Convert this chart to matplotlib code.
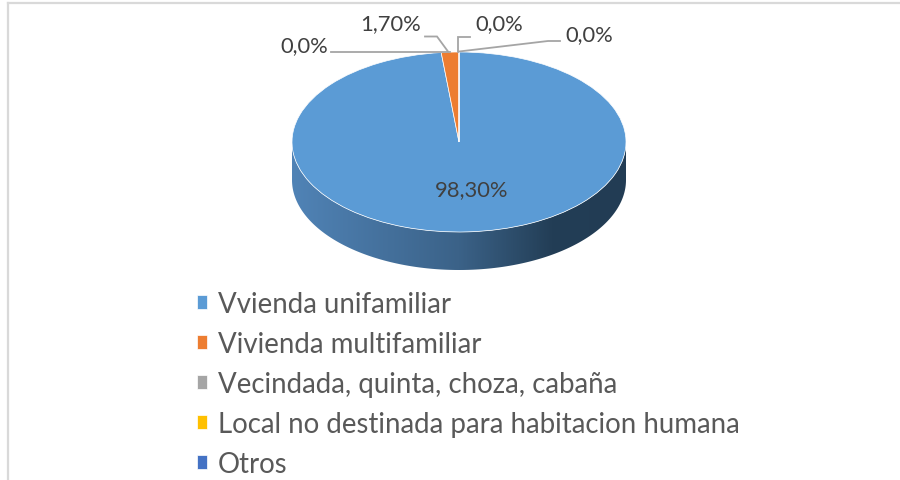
import numpy as np
import matplotlib
matplotlib.use('Agg')
import matplotlib.pyplot as plt
from matplotlib.colors import LinearSegmentedColormap
from matplotlib.patches import Polygon

plt.rcParams['font.family'] = ['Lato', 'DejaVu Sans']

# Data
categories = ['Vvienda unifamiliar', 'Vivienda multifamiliar', 'Vecindada, quinta, choza, cabaña',
              'Local no destinada para habitacion humana', 'Otros']
values = [98.30, 1.70, 0.0, 0.0, 0.0]
value_labels = ['98,30%', '1,70%', '0,0%', '0,0%', '0,0%']
colors = ['#5b9bd5', '#ed7d31', '#a5a5a5', '#ffc000', '#4472c4']

W, H = 900, 481
fig = plt.figure(figsize=(W / 100, H / 100), dpi=100, facecolor='white')

# pie axes: disc is 292-626 px wide, 52-232 px tall, side drops 38 px more
depth = 38 / 90
ax = fig.add_axes([292 / W, 1 - 271 / H, 334 / W, 218 / H])
wedges, _ = ax.pie(values, colors=colors, startangle=90, counterclock=False, radius=1,
                   center=(0, 0), wedgeprops={'edgecolor': 'white', 'linewidth': 0.5})
ax.set_aspect('auto')
ax.set_xlim(-1, 1)
ax.set_ylim(-1 - depth, 1)
ax.axis('off')

# side of the disc with the horizontal shade
shade = LinearSegmentedColormap.from_list('side', [(0, '#5083b6'), (0.5, '#3b6288'),
                                                   (0.78, '#233e56'), (1, '#223c54')])
t = np.linspace(np.pi, 2 * np.pi, 200)
outline = np.vstack([np.column_stack([np.cos(t), np.sin(t) - depth]),
                     np.column_stack([np.cos(t[::-1]), np.sin(t[::-1])])])
clip = Polygon(outline, transform=ax.transData, facecolor='none', edgecolor='none')
ax.add_patch(clip)
img = ax.imshow(np.linspace(0, 1, 256).reshape(1, -1), cmap=shade, aspect='auto',
                extent=(-1, 1, -1 - depth, 0), zorder=0)
img.set_clip_path(clip)
ax.set_xlim(-1, 1)
ax.set_ylim(-1 - depth, 1)

# overlay in pixel coordinates for frame, leaders and labels
ov = fig.add_axes([0, 0, 1, 1], facecolor='none')
ov.set_xlim(0, W)
ov.set_ylim(H, 0)
ov.axis('off')

ov.plot([8, 8], [3.5, H], color='#d9d9d9', lw=1.6)
ov.plot([8, W], [3.5, 3.5], color='#d9d9d9', lw=1.6)

leader = {'color': '#a5a5a5', 'lw': 1.3, 'solid_joinstyle': 'miter'}
ov.plot([331, 450], [52.5, 52.5], **leader)
ov.plot([425, 437, 448], [37.5, 37.5, 52.5], **leader)
ov.plot([470, 458, 458], [38, 38, 52.5], **leader)
ov.plot([560, 548, 459], [42, 42, 52.5], **leader)

label_pos = [(472, 190), (390.5, 24), (304, 46), (499.5, 24), (589, 35)]
for txt, (x, y) in zip(value_labels, label_pos):
    ov.text(x, y, txt, ha='center', va='center', fontsize=15.8, color='#404040')

leg = fig.legend(wedges, categories, loc='upper left', bbox_to_anchor=(197 / W, 1 - 292 / H),
                 frameon=False, fontsize=19.9, labelcolor='#595959', handlelength=0.36,
                 handleheight=0.36, handletextpad=0.4, labelspacing=0.505, borderpad=0, borderaxespad=0)

fig.savefig('out.png', dpi=100, facecolor='white')
